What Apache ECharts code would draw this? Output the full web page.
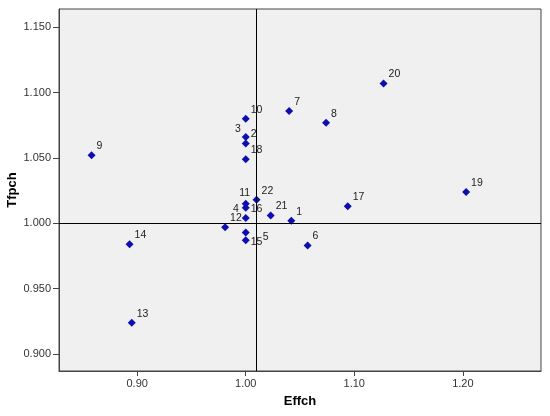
<!DOCTYPE html>
<html>
<head>
<meta charset="utf-8">
<script src="https://cdn.jsdelivr.net/npm/echarts@6/dist/echarts.min.js"></script>
<style>
  html, body { margin: 0; padding: 0; background: #fff; }
  #chart { width: 550px; height: 416px; }
</style>
</head>
<body>
<div id="chart"></div>
<script>
// point ids (labels)
var ids = ['1', '2', '3', '4', '5', '6', '7', '8', '9', '10', '11',
  '12', '13', '14', '15', '16', '17', '18', '19', '20', '21', '22'];
// Effch (x)
var effch = [1.042, 1.000, 1.000, 1.000, 1.000, 1.057, 1.040, 1.074, 0.858, 1.000, 1.000,
  0.981, 0.895, 0.893, 1.000, 1.000, 1.094, 1.000, 1.203, 1.127, 1.023, 1.010];
// Tfpch (y)
var tfpch = [1.002, 1.061, 1.066, 1.012, 0.993, 0.983, 1.086, 1.077, 1.052, 1.080, 1.015,
  0.997, 0.924, 0.984, 0.987, 1.004, 1.013, 1.049, 1.024, 1.107, 1.006, 1.018];

// tick labels
var xTicks = [0.90, 1.00, 1.10, 1.20];
var yTicks = [0.900, 0.950, 1.000, 1.050, 1.100, 1.150];

// horizontal reference line
var refY = 1.000;

// 标签位置 (默认右上)
var labelStyle = {
  '3': { position: 'left', distance: 1, offset: [0, -8] },
  '4': { position: 'left', distance: 3, offset: [0, 1] },
  '5': { position: 'right', distance: 13, offset: [0, 5] },
  '11': { position: 'top', distance: 0, offset: [-1, -1] },
  '15': { position: 'right', distance: 1, offset: [0, 2] }
};

// vertical reference line = mean of Effch
var meanX = effch.reduce(function (a, b) { return a + b; }, 0) / effch.length;

var points = ids.map(function (id, i) {
  var item = { name: id, value: [effch[i], tfpch[i]] };
  if (labelStyle[id]) item.label = labelStyle[id];
  return item;
});

var axisColor = '#444';
var labelFont = 'Liberation Sans, Arial, sans-serif';

var option = {
  animation: false,
  backgroundColor: '#fff',
  grid: {
    left: 59,
    top: 9,
    right: 9,
    bottom: 45,
    outerBoundsMode: 'none',
    containLabel: false,
    show: true,
    backgroundColor: '#f0f0f0',
    borderColor: axisColor,
    borderWidth: 1
  },
  xAxis: {
    type: 'value',
    min: 0.828,
    max: 1.272,
    name: 'Effch',
    nameLocation: 'middle',
    nameGap: 24,
    nameMoveOverlap: false,
    nameTextStyle: { fontFamily: labelFont, fontWeight: 'bold', fontSize: 13, color: '#000' },
    axisLine: { show: true, lineStyle: { color: axisColor, width: 1 } },
    axisTick: { show: true, length: 5, customValues: xTicks, lineStyle: { color: axisColor } },
    axisLabel: {
      customValues: xTicks,
      margin: 7,
      fontFamily: labelFont,
      fontSize: 11,
      color: '#333',
      formatter: function (v) { return v.toFixed(2); }
    },
    splitLine: { show: false }
  },
  yAxis: {
    type: 'value',
    min: 0.887,
    max: 1.164,
    name: 'Tfpch',
    nameLocation: 'middle',
    nameGap: 40,
    nameMoveOverlap: false,
    nameTextStyle: { fontFamily: labelFont, fontWeight: 'bold', fontSize: 13, color: '#000' },
    axisLine: { show: true, lineStyle: { color: axisColor, width: 1 } },
    axisTick: { show: true, length: 6, customValues: yTicks, lineStyle: { color: axisColor } },
    axisLabel: {
      customValues: yTicks,
      margin: 8,
      fontFamily: labelFont,
      fontSize: 11,
      color: '#333',
      formatter: function (v) { return v.toFixed(3); }
    },
    splitLine: { show: false }
  },
  series: [{
    type: 'scatter',
    symbol: 'diamond',
    symbolSize: 8,
    itemStyle: { color: '#0e0eb0', opacity: 1 },
    label: {
      show: true,
      formatter: '{b}',
      position: 'right',
      distance: 1,
      offset: [0, -9],
      fontFamily: labelFont,
      fontSize: 10.5,
      color: '#222'
    },
    data: points,
    markLine: {
      silent: true,
      symbol: ['none', 'none'],
      label: { show: false },
      lineStyle: { color: '#000', width: 1, type: 'solid' },
      data: [{ xAxis: meanX }, { yAxis: refY }]
    }
  }]
};

var chart = echarts.init(document.getElementById('chart'));
chart.setOption(option);
</script>
</body>
</html>
